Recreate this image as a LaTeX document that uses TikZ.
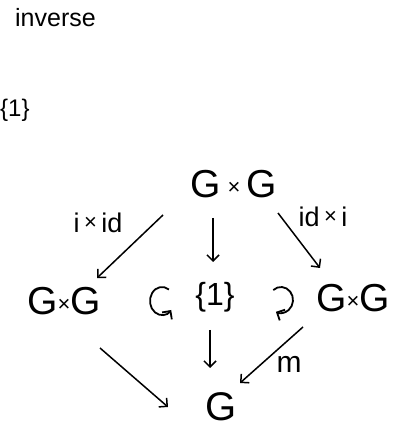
\documentclass[tikz,border=0pt]{standalone}
\usepackage{fontspec}
\setmainfont{Liberation Sans}
\usetikzlibrary{arrows.meta}
% small raised cross used between factors
\newcommand{\smx}{\raisebox{3bp}{\fontsize{22bp}{22bp}\selectfont ×}}
\tikzset{
  obj/.style={inner sep=0pt, font=\fontsize{39bp}{39bp}\selectfont},
  lab/.style={inner sep=0pt, font=\fontsize{27bp}{27bp}\selectfont},
  arr/.style={line width=1.5bp, -{Straight Barb[length=6bp,width=12bp]}},
}
\begin{document}
\begin{tikzpicture}[x=1bp,y=1bp]
\useasboundingbox (0,0) rectangle (398,429);
\fill[white] (0,0) rectangle (398,429);

% heading and the one-element set at the left edge
\node[lab, font=\fontsize{25bp}{25bp}\selectfont, anchor=base west] (title) at (15,402) {inverse};
\node[lab, font=\fontsize{24bp}{24bp}\selectfont, anchor=west] (one0) at (0,319) {\{1\}};

% objects of the diagram
\node[obj] (top) at (234,245) {G\,\smx\,G};
\node[obj] (lgg) at (64,128) {G\smx G};
\node[obj] (rgg) at (353,131) {G\smx G};
\node[lab, font=\fontsize{32bp}{32bp}\selectfont] (one) at (215,132) {\{1\}};
\node[obj, font=\fontsize{40bp}{40bp}\selectfont] (bot) at (221,22) {G};

% labels of the maps
\node[lab] (lab1) at (98,206) {i\,\smx\,id};
\node[lab] (lab2) at (323,212) {id\,\smx\,i};
\node[lab, font=\fontsize{30bp}{30bp}\selectfont] (lab3) at (289,65) {m};

% maps out of G x G
\draw[arr] ([shift={(-71,-31)}]top.center) -- ([shift={(33,23)}]lgg.center);
\draw[arr] ([shift={(-21,-34)}]top.center) -- ([shift={(-2,35)}]one.center);
\draw[arr] ([shift={(44,-29)}]top.center) -- ([shift={(-33,30)}]rgg.center);

% maps into G
\draw[arr] ([shift={(36,-47)}]lgg.center) -- ([shift={(-53,0)}]bot.center);
\draw[arr] ([shift={(-5,-33)}]one.center) -- ([shift={(-11,39)}]bot.center);
\draw[arr] ([shift={(-50,-29)}]rgg.center) -- ([shift={(19,24)}]bot.center);

% curved action arrows on either side of {1}
\draw[arr, line width=1.8bp] ([shift={(-53,-4)}]one.center) ++(55:{12bp and 14bp}) arc[start angle=55, end angle=320, x radius=12bp, y radius=14bp];
\draw[arr, line width=1.8bp] ([shift={(66,-3)}]one.center) ++(130:{12bp and 13bp}) arc[start angle=130, end angle=-115, x radius=12bp, y radius=13bp];
\end{tikzpicture}
\end{document}
